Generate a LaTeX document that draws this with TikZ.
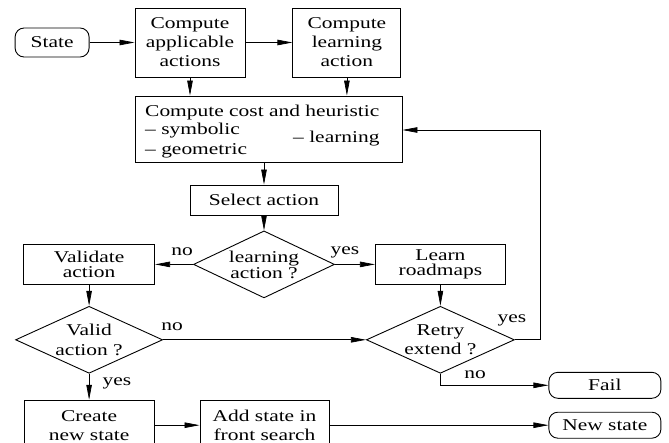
\documentclass[tikz,border=0pt]{standalone}
\usepackage{fontspec}
\setmainfont[FakeStretch=1.3]{Liberation Serif}
\usetikzlibrary{shapes.geometric,arrows.meta,positioning}

\begin{document}
\begin{tikzpicture}[x=1pt,y=-1pt,
  font=\fontsize{16.5}{19}\selectfont,
  box/.style={draw,line width=0.9pt,align=center,inner sep=0pt},
  term/.style={box,rounded corners=9pt},
  test/.style={draw,line width=0.9pt,diamond,aspect=2.1,align=center,inner sep=0pt},
  flow/.style={line width=0.7pt,-{Triangle[length=15pt,width=5.5pt]}},
  lbl/.style={inner sep=0pt,anchor=base}]
  \clip (0,0) rectangle (669,443) ; %

  \node[box, minimum width=110pt, minimum height=69pt] (applic) at (190,42.5) {Compute\\applicable\\actions} ; %
  \node[term, minimum width=74pt, minimum height=29pt, left=45pt of applic] (state) {State} ; %
  \node[box, minimum width=108pt, minimum height=69pt, right=47pt of applic] (learnact) {Compute\\learning\\action} ; %
  \node[box, minimum width=267pt, minimum height=66pt] (cost) at (268.5,129) {} ; %
  \node[inner sep=0pt, anchor=base west] (costT) at (145,117) {Compute cost and heuristic} ; %
  \node[inner sep=0pt, anchor=base west] (symb) at (145,135) {-- symbolic} ; %
  \node[inner sep=0pt, anchor=base west] (geom) at (145,155) {-- geometric} ; %
  \node[inner sep=0pt, anchor=base west] (lrn) at (293,143) {-- learning} ; %
  \node[box, minimum width=148pt, minimum height=30pt] (select) at (264,200) {Select action} ; %
  \node[test, minimum width=141pt, minimum height=67pt, below=15pt of select, font=\fontsize{16.5}{16}\selectfont] (learnq) {learning\\action ?} ; %
  \node[box, minimum width=131pt, minimum height=40pt, left=38pt of learnq, font=\fontsize{16.5}{15}\selectfont] (validate) {Validate\\action} ; %
  \node[box, minimum width=130pt, minimum height=40pt, right=40pt of learnq, font=\fontsize{16.5}{15}\selectfont] (learnrm) {Learn\\roadmaps} ; %
  \node[test, minimum width=147pt, minimum height=67pt, below=21pt of validate, font=\fontsize{16.5}{20}\selectfont] (validq) {Valid\\action ?} ; %
  \node[test, minimum width=148pt, minimum height=67pt, below=21pt of learnrm] (retryq) {Retry\\extend ?} ; %
  \node[box, minimum width=130pt, minimum height=50pt, below=26pt of validq] (create) {Create\\new state} ; %
  \node[box, minimum width=129pt, minimum height=50pt, right=45pt of create] (addst) {Add state in\\front search} ; %
  \node[term, minimum width=112pt, minimum height=26pt, right=219pt of addst] (newst) {New state} ; %
  \node[term, minimum width=112pt, minimum height=26pt, above=13pt of newst] (fail) {Fail} ; %

  \node[lbl] (noA) at (182,256) {no} ; %
  \node[lbl] (yesA) at (345,255) {yes} ; %
  \node[lbl] (noB) at (172,331) {no} ; %
  \node[lbl] (yesB) at (117,385) {yes} ; %
  \node[lbl] (yesC) at (512,323) {yes} ; %
  \node[lbl] (noC) at (475,378) {no} ; %
  \coordinate (loop) at (540,130) ; %

  \draw[flow] (state) -- (applic) ; %
  \draw[flow] (applic) -- (learnact) ; %
  \draw[flow] (applic.south) -- (applic.south |- cost.north) ; %
  \draw[flow] (learnact.south) -- (learnact.south |- cost.north) ; %
  \draw[flow] (select.north |- cost.south) -- (select.north) ; %
  \draw[flow] (select) -- (learnq) ; %
  \draw[flow] (learnq.west) -- (validate.east |- learnq.west) ; %
  \draw[flow] (learnq.east) -- (learnrm.west |- learnq.east) ; %
  \draw[flow] (validate.south) -- (validq.north) ; %
  \draw[flow] (learnrm.south) -- (retryq.north) ; %
  \draw[flow] (validq.east) -- (retryq.west) ; %
  \draw[flow] (validq.south) -- (create.north) ; %
  \draw[flow] (retryq.east) -| (loop) -- (loop -| cost.east) ; %
  \draw[flow] (retryq.south) |- (fail.west) ; %
  \draw[flow] (create.east) -- (addst.west) ; %
  \draw[flow] (addst.east) -- (newst.west) ; %

\end{tikzpicture}
\end{document}
